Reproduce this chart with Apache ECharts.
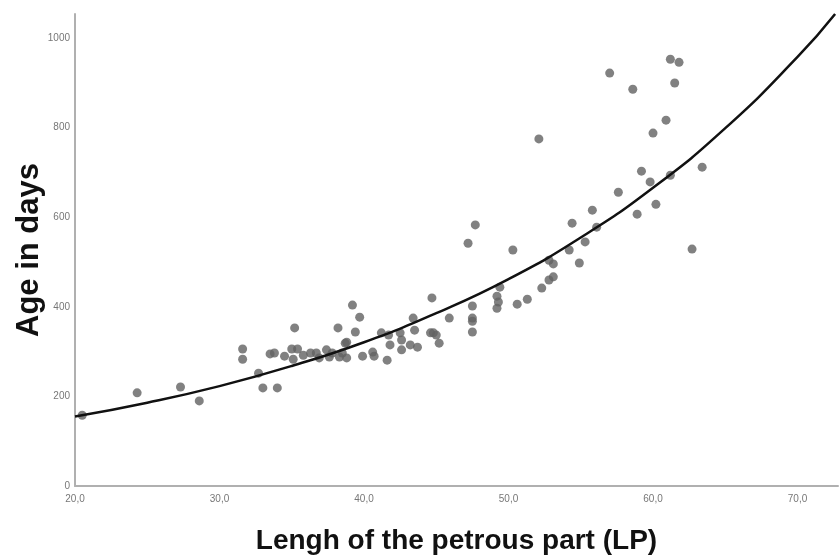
<!DOCTYPE html>
<html>
<head>
<meta charset="utf-8">
<script src="https://cdn.jsdelivr.net/npm/echarts@6/dist/echarts.min.js"></script>
<style>
html,body{margin:0;padding:0;background:#fff;}
#chart{width:840px;height:556px;}
</style>
</head>
<body>
<div id="chart"></div>
<script>
// Observed points: [LP length, age in days]
const lpValues = [
  20.5,24.3,27.3,28.6,31.6,31.6,32.7,33.0,34.0,33.5,33.8,35.2,35.0,35.4,35.1,35.8,36.3,36.7,37.4,37.8,
  38.2,38.3,38.7,38.8,39.2,39.7,39.4,38.8,38.5,39.9,40.6,40.7,41.2,41.7,41.8,41.6,42.5,42.6,42.6,43.2,
  43.7,43.4,43.5,44.6,44.8,45.0,45.2,44.7,45.9,47.5,47.5,47.5,47.5,47.7,47.2,49.4,49.2,49.2,49.3,50.6,
  51.3,50.3,52.1,52.3,52.8,53.1,52.8,53.1,54.2,54.9,54.4,55.3,55.8,56.1,57.0,58.6,61.2,61.8,61.5,60.9,
  60.0,59.2,59.8,61.2,63.4,57.6,60.2,58.9,62.7,34.5,36.9,37.6
];
const ageValues = [
  158,208,221,190,306,283,252,219,219,295,297,353,306,306,283,292,297,297,304,297,
  353,288,319,286,404,377,344,321,297,290,299,290,342,337,315,281,342,326,304,315,
  310,375,348,342,342,337,319,420,375,402,375,368,344,583,542,444,424,397,411,406,
  417,527,775,442,504,496,460,467,527,498,587,545,616,578,922,886,953,946,900,817,
  788,703,679,694,712,656,629,607,529,290,286,288
];
// Fitted curve at these LP positions
const curveX = [20, 25, 30, 35, 40, 45, 50, 55, 60, 65, 70, 72.6];
const curveY = [155, 186, 223, 268, 321, 386, 462, 555, 666, 799, 958, 1054];
const xTicks = [20, 30, 40, 50, 60, 70];
const yTicks = [0, 200, 400, 600, 800, 1000];

const scatterData = lpValues.map((x, i) => [x, ageValues[i]]);
const curveData = curveX.map((x, i) => [x, curveY[i]]);

const chart = echarts.init(document.getElementById('chart'), null, {renderer: 'canvas'});
const axisLineStyle = {color: '#b0b0b0', width: 2};
chart.setOption({
  animation: false,
  backgroundColor: '#ffffff',
  grid: {left: 75, right: 2, top: 14, bottom: 70, containLabel: false, outerBoundsMode: 'none'},
  xAxis: {
    type: 'value',
    min: 20, max: 72.8, interval: 10,
    name: 'Lengh of the petrous part (LP)',
    nameLocation: 'middle',
    nameGap: 41,
    nameMoveOverlap: false,
    nameTextStyle: {fontFamily: 'Liberation Sans', fontWeight: 'bold', fontSize: 28, color: '#111'},
    axisLine: {show: true, lineStyle: axisLineStyle},
    axisTick: {show: false},
    splitLine: {show: false},
    axisLabel: {
      showMaxLabel: false,
      margin: 8,
      fontFamily: 'Liberation Sans', fontSize: 10, color: '#777',
      formatter: v => xTicks.includes(v) ? v.toFixed(1).replace('.', ',') : ''
    }
  },
  yAxis: {
    type: 'value',
    min: 0, max: 1054, interval: 200,
    name: 'Age in days',
    nameLocation: 'middle',
    nameGap: 30,
    nameMoveOverlap: false,
    nameTextStyle: {fontFamily: 'Liberation Sans', fontWeight: 'bold', fontSize: 31, color: '#111'},
    axisLine: {show: true, lineStyle: axisLineStyle},
    axisTick: {show: false},
    splitLine: {show: false},
    axisLabel: {
      showMaxLabel: false,
      margin: 5,
      fontFamily: 'Liberation Sans', fontSize: 10, color: '#777',
      formatter: v => yTicks.includes(v) ? String(v) : ''
    }
  },
  series: [
    {
      type: 'scatter',
      data: scatterData,
      symbol: 'circle',
      symbolSize: 9,
      itemStyle: {color: '#626262'},
      z: 2
    },
    {
      type: 'line',
      data: curveData,
      smooth: true,
      showSymbol: false,
      lineStyle: {color: '#111', width: 2.5},
      z: 3
    }
  ]
});
</script>
</body>
</html>
